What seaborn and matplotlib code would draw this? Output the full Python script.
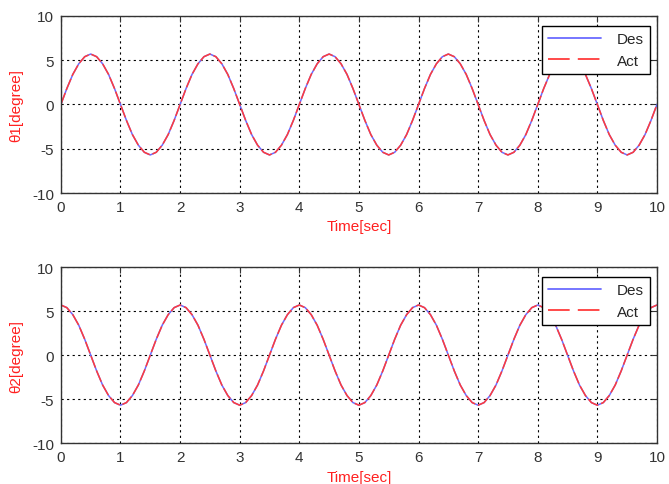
import numpy as np
import pandas as pd
import matplotlib
matplotlib.use('Agg')
import matplotlib.pyplot as plt
import seaborn as sns

# sampled readings, 0.1 s apart
time_sec = [round(0.1 * k, 1) for k in range(101)]

des_theta1 = [
    0.0, 1.8, 3.4, 4.6, 5.4, 5.7, 5.4, 4.6, 3.4, 1.8, 0.0, -1.8, -3.4, -4.6, -5.4, -5.7, -5.4, -4.6, -3.4, -1.8,
    0.0, 1.8, 3.4, 4.6, 5.4, 5.7, 5.4, 4.6, 3.4, 1.8, 0.0, -1.8, -3.4, -4.6, -5.4, -5.7, -5.4, -4.6, -3.4, -1.8,
    0.0, 1.8, 3.4, 4.6, 5.4, 5.7, 5.4, 4.6, 3.4, 1.8, 0.0, -1.8, -3.4, -4.6, -5.4, -5.7, -5.4, -4.6, -3.4, -1.8,
    0.0, 1.8, 3.4, 4.6, 5.4, 5.7, 5.4, 4.6, 3.4, 1.8, 0.0, -1.8, -3.4, -4.6, -5.4, -5.7, -5.4, -4.6, -3.4, -1.8,
    0.0, 1.8, 3.4, 4.6, 5.4, 5.7, 5.4, 4.6, 3.4, 1.8, 0.0, -1.8, -3.4, -4.6, -5.4, -5.7, -5.4, -4.6, -3.4, -1.8,
    0.0]
act_theta1 = list(des_theta1)

des_theta2 = [
    5.7, 5.4, 4.6, 3.4, 1.8, 0.0, -1.8, -3.4, -4.6, -5.4, -5.7, -5.4, -4.6, -3.4, -1.8, 0.0, 1.8, 3.4, 4.6, 5.4,
    5.7, 5.4, 4.6, 3.4, 1.8, 0.0, -1.8, -3.4, -4.6, -5.4, -5.7, -5.4, -4.6, -3.4, -1.8, 0.0, 1.8, 3.4, 4.6, 5.4,
    5.7, 5.4, 4.6, 3.4, 1.8, 0.0, -1.8, -3.4, -4.6, -5.4, -5.7, -5.4, -4.6, -3.4, -1.8, 0.0, 1.8, 3.4, 4.6, 5.4,
    5.7, 5.4, 4.6, 3.4, 1.8, 0.0, -1.8, -3.4, -4.6, -5.4, -5.7, -5.4, -4.6, -3.4, -1.8, 0.0, 1.8, 3.4, 4.6, 5.4,
    5.7, 5.4, 4.6, 3.4, 1.8, 0.0, -1.8, -3.4, -4.6, -5.4, -5.7, -5.4, -4.6, -3.4, -1.8, 0.0, 1.8, 3.4, 4.6, 5.4,
    5.7]
act_theta2 = list(des_theta2)

x_ticks = [0, 1, 2, 3, 4, 5, 6, 7, 8, 9, 10]
y_ticks = [-10, -5, 0, 5, 10]
y_labels = ['\u03b81[degree]', '\u03b82[degree]']

sns.set_style('white')
plt.rcParams['font.family'] = ['Liberation Sans', 'DejaVu Sans']
plt.rcParams['axes.unicode_minus'] = False

fig = plt.figure(figsize=(6.69, 4.85), dpi=100)
ax_top = fig.add_axes([0.091, 0.600, 0.891, 0.365])
ax_bot = fig.add_axes([0.091, 0.0845, 0.891, 0.3625])

panels = [(ax_top, des_theta1, act_theta1, y_labels[0]),
          (ax_bot, des_theta2, act_theta2, y_labels[1])]

for ax, des, act, ylab in panels:
    df = pd.DataFrame({'t': time_sec, 'Des': des, 'Act': act})
    sns.lineplot(data=df, x='t', y='Des', ax=ax, color='#6b6bff', linewidth=1.1, label='Des')
    sns.lineplot(data=df, x='t', y='Act', ax=ax, color='#ff3b3b', linewidth=1.1,
                 dashes=False, label='Act')
    ax.lines[-1].set_dashes([8, 2])

    ax.set_xlim(0, 10)
    ax.set_ylim(-10, 10)
    ax.set_xticks(x_ticks)
    ax.set_yticks(y_ticks)
    ax.grid(True, color='black', linestyle=(0, (2, 3)), linewidth=0.8)
    ax.tick_params(direction='in', length=4, top=True, right=True, labelsize=11,
                   colors='#333333', labelcolor='#333333', pad=5)
    for sp in ax.spines.values():
        sp.set_color('#333333')
        sp.set_linewidth(1.0)
    ax.set_xlabel('Time[sec]', color='#ff2020', fontsize=11, labelpad=4)
    ax.set_ylabel(ylab, color='#ff2020', fontsize=11, labelpad=6)

    leg = ax.legend(loc='upper right', bbox_to_anchor=(0.988, 0.944), borderaxespad=0,
                    fancybox=False, frameon=True, edgecolor='black', fontsize=11,
                    handlelength=3.5, handletextpad=1.0, framealpha=1)
    leg.get_frame().set_linewidth(1.0)
    leg.legend_handles[0].set_linewidth(1.3)
    leg.legend_handles[1].set_linewidth(1.3)
    leg.legend_handles[1].set_dashes([12, 4.5])

fig.savefig('out.png', dpi=100)
